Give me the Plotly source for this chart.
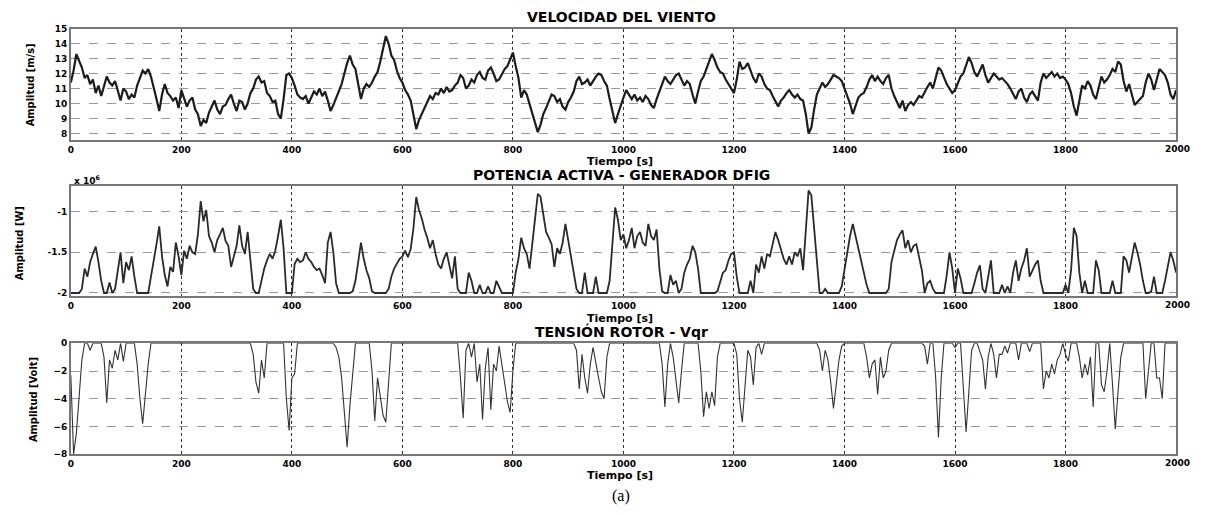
import plotly.graph_objects as go

T_STEP = 5  # seconds between the samples

# wind speed [m/s], one row per 100 s (last value is t = 2000 s)
wind = [
    11.4, 12.2, 13.3, 12.8, 12.4, 11.7, 11.9, 11.3, 11.6, 10.7, 11.2, 10.5, 11.1, 11.8, 11.4, 11.2, 11.5, 10.9, 10.2, 11.0,
    10.8, 10.3, 10.6, 10.4, 11.2, 11.7, 12.2, 12.0, 12.3, 11.8, 11.1, 10.3, 9.5, 10.6, 11.3, 10.7, 10.5, 10.2, 10.4, 9.7,
    10.9, 10.4, 9.8, 10.2, 10.4, 9.6, 9.3, 8.5, 8.9, 8.7, 9.4, 9.8, 10.2, 9.6, 9.3, 9.8, 9.9, 10.3, 10.6, 10.0,
    9.5, 10.2, 10.1, 9.6, 10.0, 10.7, 11.0, 11.6, 11.8, 11.4, 11.5, 10.7, 10.5, 10.1, 10.2, 9.3, 9.0, 10.3, 11.9, 12.0,
    11.7, 11.2, 10.6, 10.4, 10.3, 10.5, 10.0, 10.4, 10.8, 10.6, 11.0, 10.5, 10.8, 10.2, 9.5, 9.9, 10.4, 10.9, 11.3, 12.0,
    12.7, 13.2, 12.6, 12.3, 11.3, 10.3, 11.0, 11.3, 11.1, 11.4, 11.8, 12.1, 12.8, 13.6, 14.5, 14.0, 13.2, 12.9, 12.2, 11.7,
    11.4, 10.9, 10.6, 10.2, 9.3, 8.3, 8.9, 9.3, 9.8, 10.2, 10.5, 10.3, 10.7, 10.6, 11.0, 10.7, 11.1, 10.8, 10.9, 11.2,
    11.4, 11.9, 11.7, 11.0, 11.2, 11.6, 11.4, 11.9, 12.1, 11.7, 11.6, 12.2, 12.4, 12.0, 11.5, 11.6, 12.0, 12.3, 12.5, 13.0,
    13.4, 12.5, 11.7, 10.4, 10.9, 10.6, 10.0, 9.4, 8.8, 8.1, 8.6, 9.3, 9.7, 10.1, 10.6, 10.5, 10.1, 10.3, 9.8, 9.6,
    10.1, 10.4, 10.8, 11.5, 11.8, 11.3, 11.4, 11.6, 11.2, 11.5, 11.8, 12.0, 11.9, 11.5, 11.2, 10.3, 9.5, 8.7, 9.3, 9.9,
    10.4, 10.9, 10.6, 10.3, 10.6, 10.2, 10.4, 10.1, 10.5, 10.3, 9.9, 9.7, 10.3, 10.8, 11.2, 11.8, 11.5, 11.3, 11.6, 11.9,
    12.0, 11.6, 11.2, 11.5, 11.3, 10.6, 10.0, 10.8, 11.5, 11.8, 12.3, 12.8, 13.3, 12.9, 12.4, 12.1, 12.0, 11.6, 11.3, 11.0,
    10.7, 11.6, 12.8, 12.3, 12.4, 12.7, 12.2, 11.7, 11.4, 12.0, 11.8, 11.3, 11.0, 10.9, 10.5, 10.1, 9.8, 10.2, 10.4, 10.7,
    10.9, 10.6, 10.4, 10.6, 10.3, 10.2, 9.3, 8.0, 8.4, 9.6, 10.6, 11.0, 11.4, 11.1, 11.3, 11.6, 11.9, 11.8, 11.7, 11.5,
    11.0, 10.5, 10.0, 9.3, 9.8, 10.4, 10.6, 10.7, 11.1, 11.6, 11.9, 11.5, 11.8, 11.5, 11.3, 11.7, 11.9, 11.0, 10.5, 10.1,
    9.7, 10.2, 9.5, 9.9, 10.1, 9.9, 10.2, 10.5, 10.4, 10.8, 11.1, 11.4, 11.0, 11.7, 12.4, 12.2, 11.7, 11.3, 11.0, 10.7,
    10.9, 11.4, 11.8, 12.0, 12.6, 13.1, 12.7, 12.1, 11.8, 12.2, 12.6, 11.9, 11.4, 11.7, 12.0, 11.8, 11.6, 11.7, 11.5, 11.3,
    11.0, 10.6, 10.3, 10.8, 11.0, 10.4, 10.1, 10.6, 10.8, 10.5, 10.2, 11.4, 12.0, 11.7, 11.9, 12.1, 11.8, 12.0, 11.7, 11.8,
    11.6, 11.3, 10.7, 9.8, 9.2, 10.3, 11.2, 11.0, 11.5, 11.2, 10.6, 10.3, 11.0, 11.8, 11.4, 11.6, 11.9, 12.3, 12.1, 12.8,
    12.6, 11.5, 10.8, 11.3, 10.6, 9.9, 10.1, 10.3, 10.5, 11.4, 12.0, 11.6, 10.9, 11.6, 12.3, 12.1, 11.9, 11.4, 10.6, 10.3,
    10.9,
]

# active power of the DFIG, in units of 1e6 W
power = [
    -2.0, -2.0, -2.0, -2.0, -1.95, -1.7, -1.8, -1.62, -1.52, -1.43, -1.62, -1.85, -2.0, -2.0, -1.87, -2.0, -1.95, -1.75, -1.5, -1.88,
    -1.62, -1.72, -1.55, -1.8, -2.0, -2.0, -2.0, -2.0, -2.0, -1.8, -1.62, -1.4, -1.18, -1.55, -1.78, -1.92, -1.68, -1.74, -1.38, -1.55,
    -1.78, -1.48, -1.58, -1.42, -1.5, -1.52, -1.28, -0.87, -1.12, -0.98, -1.3, -1.38, -1.5, -1.35, -1.28, -1.2, -1.36, -1.42, -1.68, -1.55,
    -1.42, -1.17, -1.42, -1.52, -1.25, -1.6, -1.95, -2.0, -2.0, -1.85, -1.7, -1.6, -1.52, -1.58, -1.48, -1.3, -1.1, -1.45, -2.0, -2.0,
    -2.0, -1.64, -1.58, -1.62, -1.6, -1.5, -1.58, -1.62, -1.68, -1.72, -1.7, -1.78, -1.88, -1.38, -1.25, -1.5, -1.88, -2.0, -2.0, -2.0,
    -2.0, -2.0, -1.98, -1.85, -1.62, -1.38, -1.58, -1.72, -1.82, -1.98, -2.0, -2.0, -2.0, -2.0, -2.0, -1.95, -1.8, -1.7, -1.63, -1.58,
    -1.55, -1.48, -1.56, -1.46, -1.2, -0.82, -0.98, -1.08, -1.22, -1.32, -1.45, -1.35, -1.52, -1.65, -1.7, -1.58, -1.5, -1.65, -1.82, -1.55,
    -1.95, -2.0, -2.0, -2.0, -1.75, -1.85, -2.0, -2.0, -1.9, -2.0, -2.0, -1.92, -2.0, -2.0, -1.85, -1.92, -2.0, -2.0, -2.0, -2.0,
    -2.0, -1.75, -1.58, -1.32, -1.45, -1.52, -1.7, -1.4, -1.1, -0.78, -0.82, -1.05, -1.25, -1.32, -1.4, -1.68, -1.45, -1.52, -1.38, -1.15,
    -1.35, -1.52, -1.72, -1.95, -2.0, -2.0, -1.75, -2.0, -2.0, -2.0, -1.8, -2.0, -2.0, -2.0, -2.0, -1.85, -1.45, -0.95, -1.1, -1.35,
    -1.28, -1.45, -1.35, -1.2, -1.45, -1.3, -1.25, -1.38, -1.42, -1.15, -1.3, -1.35, -1.22, -1.7, -1.98, -2.0, -2.0, -1.78, -1.9, -1.85,
    -2.0, -1.95, -1.75, -1.65, -1.58, -1.42, -1.5, -1.7, -2.0, -2.0, -2.0, -2.0, -2.0, -2.0, -1.98, -1.85, -1.75, -1.72, -1.6, -1.52,
    -1.5, -1.8, -2.0, -2.0, -2.0, -2.0, -1.85, -2.0, -1.65, -1.75, -1.55, -1.7, -1.52, -1.55, -1.4, -1.25, -1.35, -1.48, -1.58, -1.65,
    -1.55, -1.65, -1.5, -1.55, -1.45, -1.72, -1.25, -0.74, -0.8, -1.2, -1.65, -2.0, -2.0, -1.95, -2.0, -2.0, -2.0, -2.0, -2.0, -1.92,
    -1.7, -1.5, -1.3, -1.15, -1.3, -1.48, -1.6, -1.78, -1.9, -2.0, -2.0, -2.0, -2.0, -2.0, -2.0, -2.0, -1.95, -1.62, -1.48, -1.35,
    -1.28, -1.23, -1.45, -1.35, -1.5, -1.42, -1.4, -1.55, -1.72, -2.0, -1.88, -1.85, -1.95, -2.0, -2.0, -2.0, -2.0, -1.78, -1.5, -1.7,
    -2.0, -1.7, -1.82, -2.0, -2.0, -2.0, -2.0, -1.88, -1.75, -1.66, -1.95, -2.0, -1.82, -1.6, -2.0, -2.0, -2.0, -1.9, -2.0, -1.92,
    -2.0, -1.75, -1.6, -1.85, -1.7, -1.6, -1.45, -1.8, -1.72, -1.65, -1.6, -1.85, -2.0, -2.0, -2.0, -2.0, -2.0, -2.0, -2.0, -2.0,
    -1.9, -2.0, -1.72, -1.2, -1.3, -1.75, -2.0, -1.85, -2.0, -2.0, -2.0, -1.6, -1.72, -2.0, -2.0, -2.0, -2.0, -1.85, -2.0, -2.0,
    -2.0, -1.55, -1.6, -1.75, -1.55, -1.38, -1.5, -1.65, -1.85, -2.0, -2.0, -1.98, -1.8, -2.0, -2.0, -2.0, -1.85, -1.68, -1.5, -1.6,
    -1.75,
]

# rotor voltage Vqr [V]
vqr = [
    -2.3, -8.0, -6.5, -3.5, -1.2, 0, 0, -0.5, 0, 0, 0, 0, -1.0, -4.3, -1.2, -1.8, -0.5, -1.2, 0, -1.3,
    0, 0, 0, 0, -1.5, -4.0, -5.8, -3.5, -1.5, 0, 0, 0, 0, 0, 0, 0, 0, 0, 0, 0,
    0, 0, 0, 0, 0, 0, 0, 0, 0, 0, 0, 0, 0, 0, 0, 0, 0, 0, 0, 0,
    0, 0, 0, 0, 0, 0, -0.8, -2.8, -3.6, -1.2, -2.5, 0, 0, 0, 0, 0, 0, 0, -4.0, -6.3,
    -2.5, -2.2, 0, 0, 0, 0, 0, 0, 0, 0, 0, 0, 0, 0, 0, 0, -0.3, -1.0, -2.5, -5.0,
    -7.5, -4.5, -2.0, 0, 0, 0, 0, 0, 0, -2.0, -5.6, -2.5, -4.0, -5.2, -5.7, -2.8, 0, 0, 0, 0,
    0, 0, 0, 0, 0, 0, 0, 0, 0, 0, 0, 0, 0, 0, 0, 0, 0, 0, 0, 0,
    0, -2.5, -5.4, -0.5, 0, -1.0, 0, -2.8, -1.5, -5.5, -1.8, -0.3, -4.8, -1.5, -2.0, -0.2, -1.6, -3.0, -4.2, -5.0,
    -2.0, 0, 0, 0, 0, 0, 0, 0, 0, 0, 0, 0, 0, 0, 0, 0, 0, 0, 0, 0,
    0, 0, 0, -0.5, -3.3, -0.8, -2.5, -3.6, -1.5, -0.3, -1.5, -2.5, -3.5, -4.0, -1.0, 0, 0, 0, 0, 0,
    0, 0, 0, 0, 0, 0, 0, 0, 0, 0, 0, 0, 0, 0, -1.5, -4.6, -1.5, 0, -1.0, -2.8,
    -4.3, -2.0, 0, 0, 0, 0, 0, 0, -2.0, -5.3, -3.5, -4.7, -3.5, -4.5, -1.0, 0, 0, 0, 0, 0,
    0, -0.8, -4.0, -5.7, -3.0, -0.5, -1.0, -3.0, -0.3, 0, -0.8, 0, 0, 0, 0, 0, 0, 0, 0, 0,
    0, 0, 0, 0, 0, 0, 0, 0, 0, 0, 0, -0.5, -2.0, -0.5, -1.2, -2.8, -4.7, -3.0, -1.2, -0.2,
    0, 0, 0, 0, 0, 0, 0, 0, -1.0, -2.5, -1.5, -1.2, -3.7, -1.0, -2.5, -2.0, -0.5, 0, 0, 0,
    0, 0, 0, 0, 0, 0, 0, 0, 0, -0.2, -1.5, 0, 0, -2.5, -6.8, -2.5, 0, 0, 0, 0,
    -0.3, 0, 0, -3.0, -6.4, -3.5, -0.5, 0, 0, -0.6, -1.2, -3.3, -1.0, 0, -0.8, -2.5, -0.8, -0.8, -0.2, -0.7,
    0, 0, 0, -1.2, 0, 0, 0, -0.6, 0, 0, 0, 0, -3.3, -2.0, -2.5, -1.5, -2.2, -1.2, -0.8, 0,
    -0.8, -1.3, 0, 0, 0, -1.0, -2.5, -1.5, -2.3, -1.0, -4.6, 0, 0, -3.0, -3.5, -2.0, 0, -3.0, -6.2, -3.5,
    -1.0, 0, 0, 0, 0, 0, 0, 0, 0, -4.0, -2.0, 0, 0, -2.5, -2.5, -4.0, 0, 0, 0, 0,
    0,
]

x_ticks = [0, 200, 400, 600, 800, 1000, 1200, 1400, 1600, 1800]
x_last = 2000  # right-hand end label, written as an annotation
wind_ticks = [8, 9, 10, 11, 12, 13, 14, 15]
power_ticks = [-2, -1.5, -1]
vqr_ticks = [-8, -6, -4, -2, 0]

titles = ["VELOCIDAD DEL VIENTO", "POTENCIA ACTIVA - GENERADOR DFIG", "TENSIÓN ROTOR - Vqr"]
y_titles = ["Amplitud [m/s]", "Amplitud [W]", "Amplitud [Volt]"]

W, H = 1206, 515


def px(x):
    return x / W


def py(y):
    return 1 - y / H


t_wind = [i * T_STEP for i in range(len(wind))]
t_power = [i * T_STEP for i in range(len(power))]
t_vqr = [i * T_STEP for i in range(len(vqr))]

fig = go.Figure()
fig.add_trace(go.Scatter(x=t_wind, y=wind, mode='lines', xaxis='x', yaxis='y',
                         line=dict(color='#1c1c1c', width=2.2)))
fig.add_trace(go.Scatter(x=t_power, y=power, mode='lines', xaxis='x2', yaxis='y2',
                         line=dict(color='#2a2a2a', width=1.8)))
fig.add_trace(go.Scatter(x=t_vqr, y=vqr, mode='lines', xaxis='x3', yaxis='y3',
                         line=dict(color='#333333', width=1.1)))

tick_font = dict(family='DejaVu Sans', size=9, color='black', weight='bold')

xax = dict(range=[0, 2000], tickvals=x_ticks, showgrid=True, gridcolor='#333',
           griddash='dot', gridwidth=1, showline=True, linecolor='#777', linewidth=1.5,
           mirror=True, ticks='', tickfont=tick_font, zeroline=False)
yax = dict(showgrid=True, gridcolor='#999', griddash='dash', gridwidth=1,
           showline=True, linecolor='#777', linewidth=1.5, mirror=True, ticks='',
           tickfont=tick_font, zeroline=False)

x0, x1 = px(68), px(1176)
fig.update_layout(
    width=W, height=H, margin=dict(l=0, r=0, t=0, b=0),
    paper_bgcolor='white', plot_bgcolor='white', showlegend=False, hovermode=False,
    xaxis=dict(xax, domain=[x0, x1], anchor='y'),
    yaxis=dict(yax, domain=[py(138), py(24)], range=[7.55, 15], tickvals=wind_ticks, anchor='x'),
    xaxis2=dict(xax, domain=[x0, x1], anchor='y2'),
    yaxis2=dict(yax, domain=[py(297), py(185)], range=[-2.04, -0.69], tickvals=power_ticks,
                ticktext=['-2', '-1.5', '-1'], anchor='x2'),
    xaxis3=dict(xax, domain=[x0, x1], anchor='y3'),
    yaxis3=dict(yax, domain=[py(458), py(345)], range=[-8, 0], tickvals=vqr_ticks, anchor='x3'),
)

title_font = dict(family='DejaVu Sans', size=14, color='black', weight='bold')
label_font = dict(family='DejaVu Sans', size=11, color='black', weight='bold')
ytitle_font = dict(family='DejaVu Sans Condensed, DejaVu Sans', size=11, color='black', weight='bold')

notes = []
for title, y in zip(titles, [12, 173, 333]):
    notes.append(dict(text=title, x=px(620), y=py(y), font=title_font))
for y in [160, 320, 480]:
    notes.append(dict(text='Tiempo [s]', x=px(619), y=py(y), font=label_font))
for title, x, y in zip(y_titles, [27, 16, 30], [81, 243, 402]):
    notes.append(dict(text=title, x=px(x), y=py(y), textangle=-90, font=ytitle_font))
for y in [147, 306, 467]:
    notes.append(dict(text=str(x_last), x=px(1177), y=py(y), font=tick_font))
notes.append(dict(text='x 10<sup>6</sup>', x=px(84), y=py(178),
                  font=dict(family='DejaVu Sans', size=9, color='black', weight='bold')))
notes.append(dict(text='(a)', x=px(620), y=py(501),
                  font=dict(family='Liberation Serif', size=16, color='black')))

for n in notes:
    n.update(xref='paper', yref='paper', showarrow=False, xanchor='center', yanchor='middle')
fig.update_layout(annotations=notes)

# drop the default 8 px page margin so the figure fills the window exactly
fig.write_html("out.html", config={'displayModeBar': False},
               post_script="document.body.style.margin='0';"
                           "document.body.style.overflow='hidden';")
